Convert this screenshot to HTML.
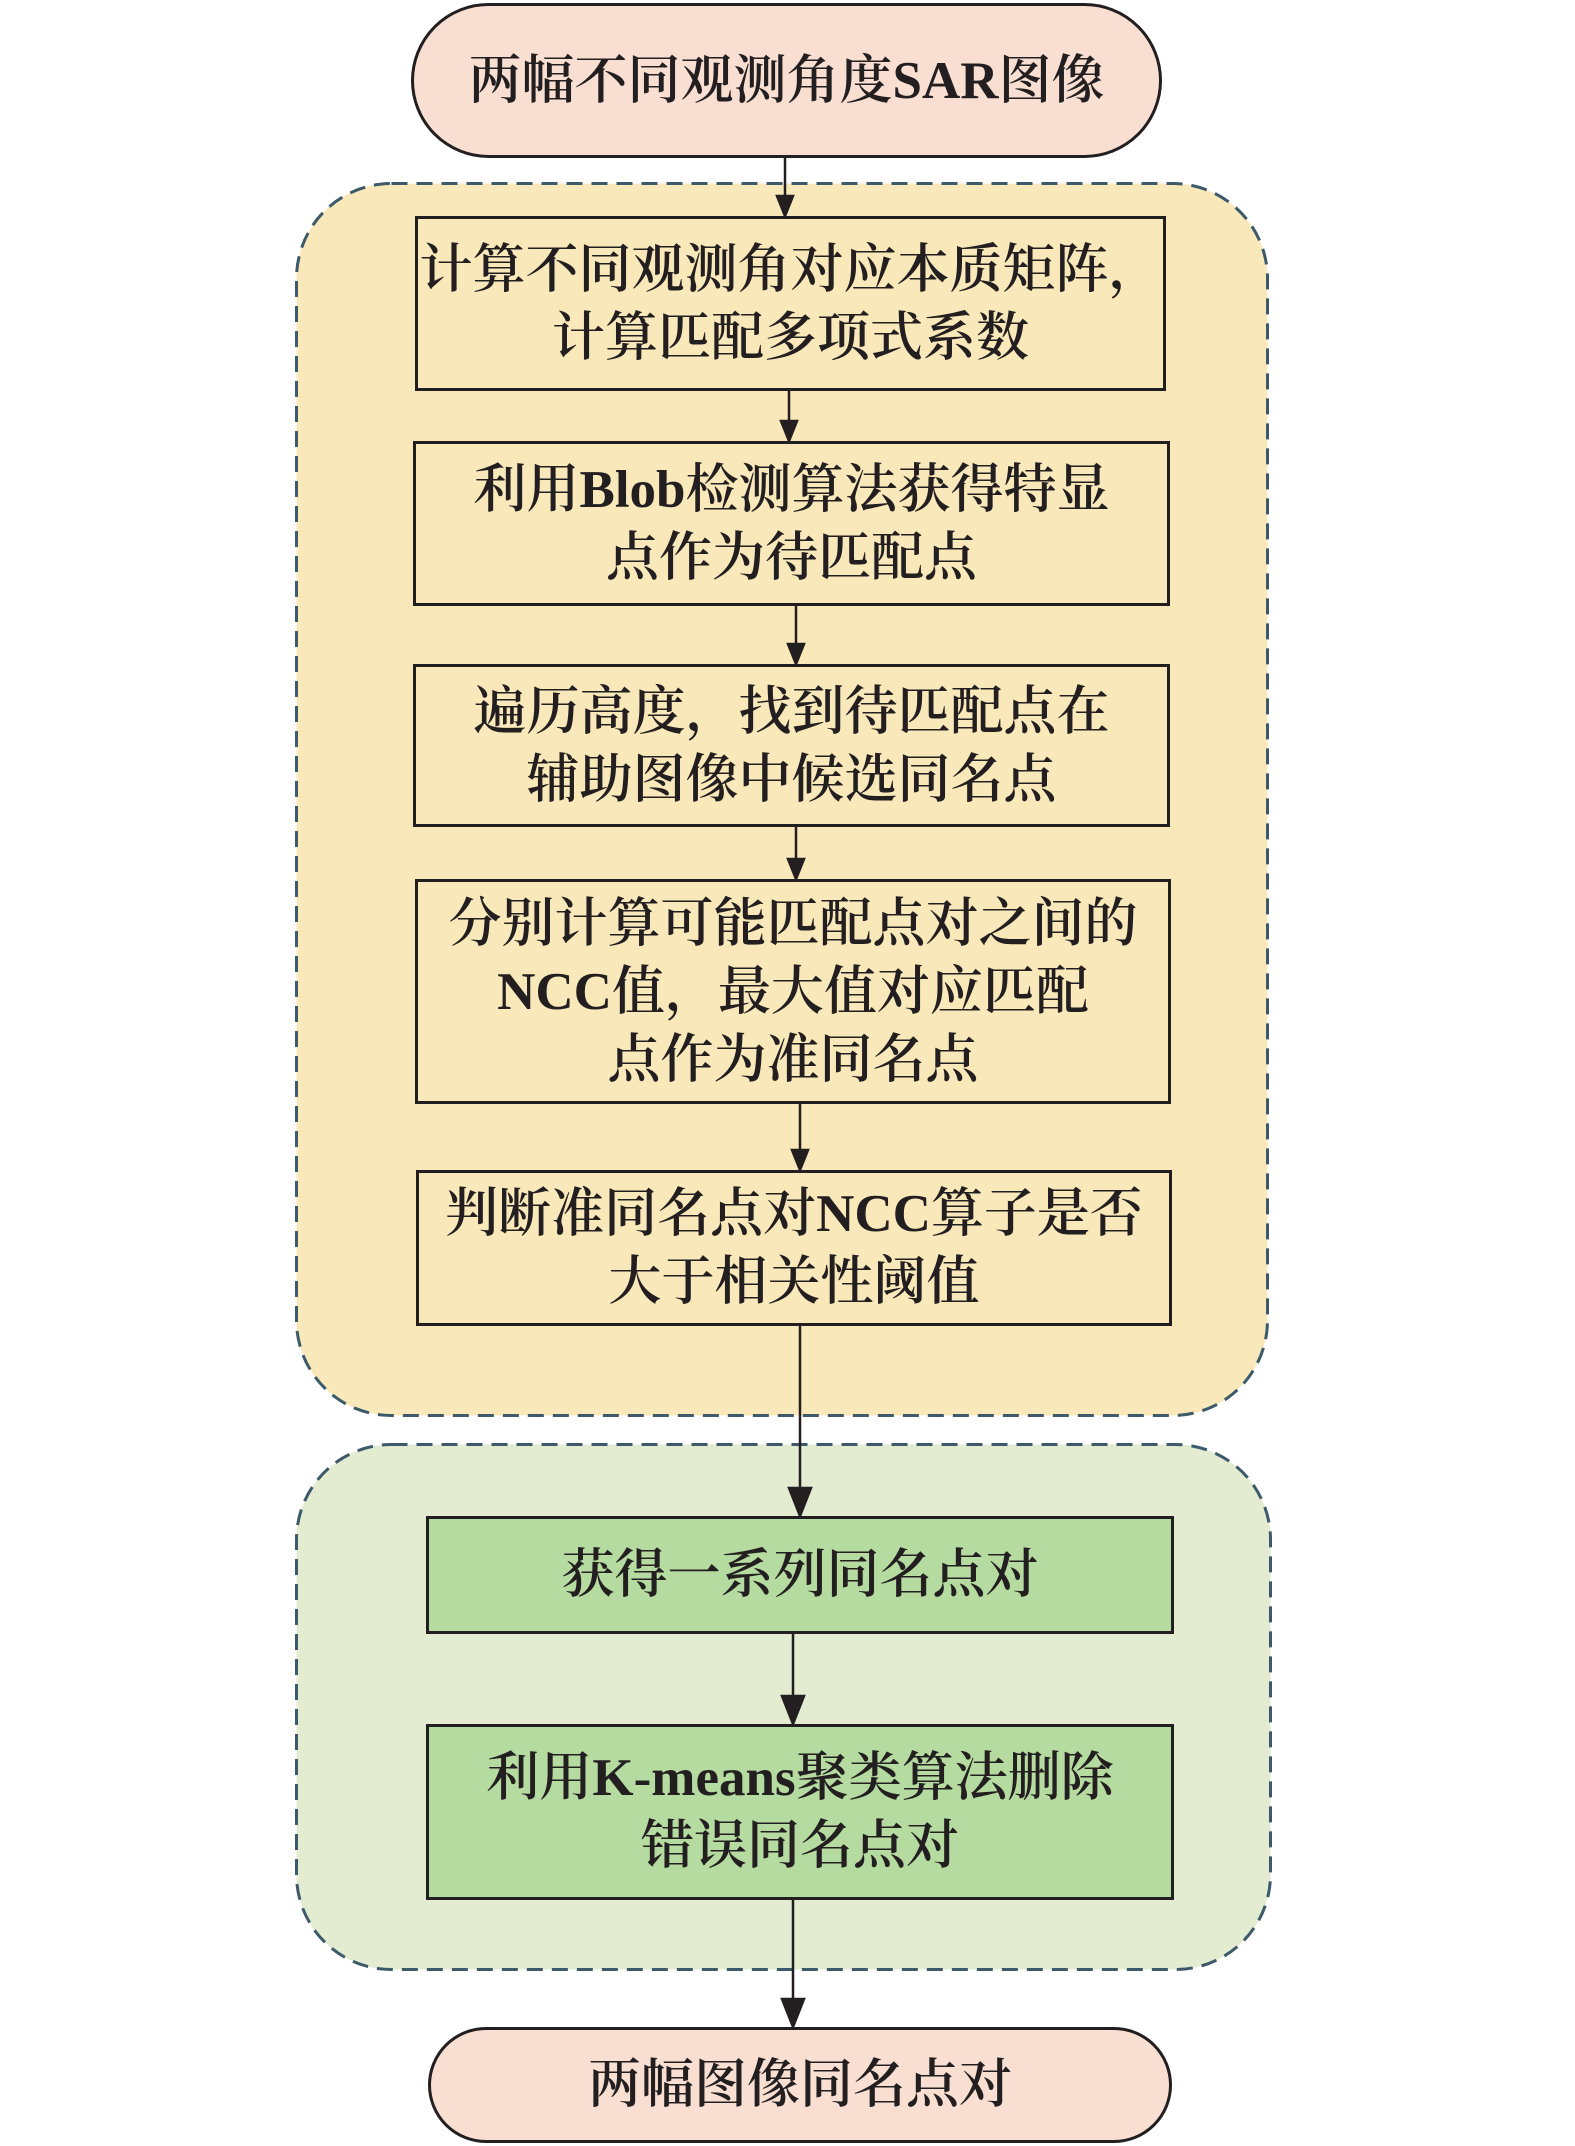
<!DOCTYPE html>
<html><head><meta charset="utf-8"><style>
html,body{margin:0;padding:0;background:#fff}
body{width:1575px;height:2146px;position:relative;overflow:hidden;font-family:"Liberation Serif","Noto Serif CJK SC",serif;color:#231f20}
.b{position:absolute;box-sizing:border-box;border:3px solid #231f20;display:flex;align-items:center;justify-content:center;text-align:center;font-size:53px;line-height:68px;font-weight:600;white-space:nowrap}
.y{background:#f9e8b9}
.g{background:#b5dba1}
.p{background:#f9dfd2;border-radius:80px}
svg{position:absolute;left:0;top:0}
</style></head><body>
<svg width="1575" height="2146">
<rect x="296.5" y="183.5" width="971" height="1232" rx="95" fill="#f9e8b9" stroke="#3c5a6a" stroke-width="3" stroke-dasharray="16 9"/>
<rect x="296.5" y="1444.5" width="974" height="525" rx="95" fill="#e3ebd0" stroke="#3c5a6a" stroke-width="3" stroke-dasharray="16 9"/>
</svg>
<div class="b p" style="left:411px;top:3px;width:751px;height:155px">两幅不同观测角度SAR图像</div>
<div class="b y" style="left:415px;top:216px;width:751px;height:175px">计算不同观测角对应本质矩阵，<br>计算匹配多项式系数</div>
<div class="b y" style="left:413px;top:441px;width:757px;height:165px">利用Blob检测算法获得特显<br>点作为待匹配点</div>
<div class="b y" style="left:413px;top:664px;width:757px;height:163px">遍历高度，找到待匹配点在<br>辅助图像中候选同名点</div>
<div class="b y" style="left:415px;top:879px;width:756px;height:225px">分别计算可能匹配点对之间的<br>NCC值，最大值对应匹配<br>点作为准同名点</div>
<div class="b y" style="left:416px;top:1170px;width:756px;height:156px">判断准同名点对NCC算子是否<br>大于相关性阈值</div>
<div class="b g" style="left:426px;top:1516px;width:748px;height:118px">获得一系列同名点对</div>
<div class="b g" style="left:426px;top:1724px;width:748px;height:176px">利用K-means聚类算法删除<br>错误同名点对</div>
<div class="b p" style="left:428px;top:2027px;width:744px;height:116px">两幅图像同名点对</div>
<svg width="1575" height="2146">
<g stroke="#231f20" stroke-width="2.5" fill="#231f20">
<line x1="785" y1="158" x2="785" y2="200"/><polygon points="777,196 793,196 785,216"/>
<line x1="789" y1="391" x2="789" y2="425"/><polygon points="781,421 797,421 789,441"/>
<line x1="796" y1="606" x2="796" y2="648"/><polygon points="788,644 804,644 796,664"/>
<line x1="796" y1="827" x2="796" y2="863"/><polygon points="788,859 804,859 796,879"/>
<line x1="800" y1="1104" x2="800" y2="1154"/><polygon points="792,1150 808,1150 800,1170"/>
<line x1="800" y1="1326" x2="800" y2="1495"/><polygon points="789,1488 811,1488 800,1516"/>
<line x1="793" y1="1634" x2="793" y2="1703"/><polygon points="782,1696 804,1696 793,1724"/>
<line x1="793" y1="1900" x2="793" y2="2006"/><polygon points="782,1999 804,1999 793,2027"/>
</g></svg>
</body></html>
